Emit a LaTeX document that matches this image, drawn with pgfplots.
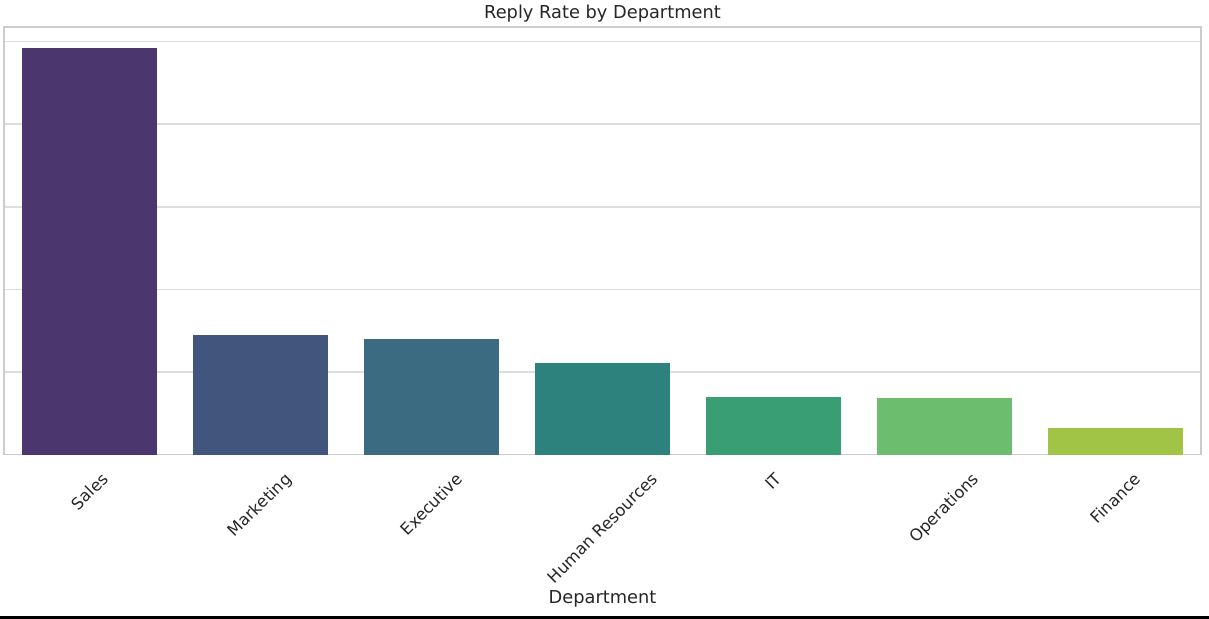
\documentclass[border=0pt]{standalone}
\usepackage{fontspec}
\setmainfont{DejaVu Sans}
\usepackage{pgfplots}
\pgfplotsset{compat=1.18}

\definecolor{txt}{HTML}{262626}
\definecolor{gridc}{HTML}{DDDDDD}
\definecolor{spine}{HTML}{CCCCCC}
\definecolor{c1}{RGB}{75,54,110}
\definecolor{c2}{RGB}{65,85,125}
\definecolor{c3}{RGB}{58,107,128}
\definecolor{c4}{RGB}{46,130,125}
\definecolor{c5}{RGB}{58,158,117}
\definecolor{c6}{RGB}{108,190,110}
\definecolor{c7}{RGB}{162,196,70}

\begin{document}
\begin{tikzpicture}
\begin{axis}[
  scale only axis,
  width=598.5pt, height=213.9pt,
  xmin=-0.5, xmax=6.5,
  ymin=0, ymax=5.18,
  xtick={0,1,2,3,4,5,6},
  xticklabels={
    \rotatebox{45}{Sales},
    \rotatebox{45}{Marketing},
    \rotatebox{45}{Executive},
    \rotatebox{45}{Human Resources},
    \rotatebox{45}{IT},
    \rotatebox{45}{Operations},
    \rotatebox{45}{Finance}},
  ytick={0,1,2,3,4,5},
  yticklabels={},
  major tick length=0pt,
  ymajorgrids,
  grid style={gridc, line width=0.8pt},
  axis line style={spine, line width=0.8pt},
  tick label style={font=\fontsize{8.15}{9.8}\selectfont, text=txt},
  xticklabel style={anchor=north, yshift=-5pt},
  title={Reply Rate by Department},
  title style={font=\fontsize{8.9}{10.7}\selectfont, text=txt,
    at={(axis description cs:0.5,1)}, anchor=base, yshift=-1.8pt},
  xlabel={Department},
  xlabel style={font=\fontsize{8.9}{10.7}\selectfont, text=txt,
    at={(axis description cs:0.5,0)}, anchor=base, yshift=-74.6pt},
]
\addplot[ybar, bar width=0.79, fill=c1, draw=none] coordinates {(0,4.92)};
\addplot[ybar, bar width=0.79, fill=c2, draw=none] coordinates {(1,1.444)};
\addplot[ybar, bar width=0.79, fill=c3, draw=none] coordinates {(2,1.395)};
\addplot[ybar, bar width=0.79, fill=c4, draw=none] coordinates {(3,1.112)};
\addplot[ybar, bar width=0.79, fill=c5, draw=none] coordinates {(4,0.700)};
\addplot[ybar, bar width=0.79, fill=c6, draw=none] coordinates {(5,0.684)};
\addplot[ybar, bar width=0.79, fill=c7, draw=none] coordinates {(6,0.321)};
\end{axis}
\pgfresetboundingbox
\path[use as bounding box] ([xshift=-2pt,yshift=-82.2pt]current axis.south west)
  rectangle ([xshift=4pt,yshift=13.4pt]current axis.north east);
\fill[black] ([xshift=-2pt,yshift=-82.2pt]current axis.south west)
  rectangle ([xshift=4pt,yshift=-80.8pt]current axis.south east);
\end{tikzpicture}
\end{document}
